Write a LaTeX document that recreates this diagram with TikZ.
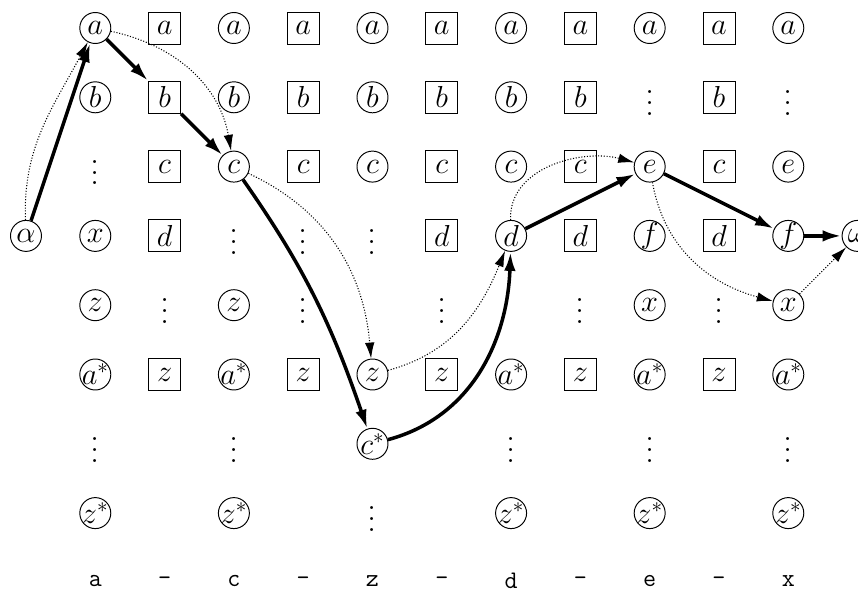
\documentclass[tikz,border=0pt]{standalone}
\usetikzlibrary{arrows.meta}
\newcommand\Zc[1]{\makebox[0pt]{$#1$}}
\newcommand\Vd{\vbox{\baselineskip 6.2pt\lineskiplimit 0pt\hbox{.}\hbox{.}\hbox{.}}}
\begin{document}
\begin{tikzpicture}[x=1.386cm,y=1.386cm,
  cn/.style={circle,draw,line width=0.55pt,minimum size=0.62cm,inner sep=0pt,font=\LARGE},
  sn/.style={rectangle,draw,line width=0.55pt,minimum size=0.64cm,inner sep=0pt,font=\LARGE},
  dn/.style={inner sep=0pt,font=\huge,yshift=-0.12cm},
  lb/.style={inner sep=0pt,font=\Large\ttfamily},
  th/.style={line width=2pt,-{Latex[length=3.8mm,width=2.3mm]}},
  dt/.style={line width=0.6pt,densely dotted,-{Latex[length=3.2mm,width=1.9mm]}}]
\useasboundingbox (-0.375,-0.596) rectangle (12.006,-9.11);
\clip (-0.375,-0.596) rectangle (12.006,-9.11);
% alpha and omega
\node[cn] (al) at (0,-4) {\Zc{\alpha}};
\node[cn] (om) at (12,-4) {\Zc{\omega}};
% column 1
\node[cn] (n1-1) at (1,-1) {\Zc{a}};
\node[cn] (n1-2) at (1,-2) {\Zc{b}};
\node[dn] (n1-3) at (1,-3) {\Vd};
\node[cn] (n1-4) at (1,-4) {\Zc{x}};
\node[cn] (n1-5) at (1,-5) {\Zc{z}};
\node[cn] (n1-6) at (1,-6) {\Zc{a^*}};
\node[dn] (n1-7) at (1,-7) {\Vd};
\node[cn] (n1-8) at (1,-8) {\Zc{z^*}};
% column 2
\node[sn] (n2-1) at (2,-1) {$a$};
\node[sn] (n2-2) at (2,-2) {$b$};
\node[sn] (n2-3) at (2,-3) {$c$};
\node[sn] (n2-4) at (2,-4) {$d$};
\node[dn] (n2-5) at (2,-5) {\Vd};
\node[sn] (n2-6) at (2,-6) {$z$};
% column 3
\node[cn] (n3-1) at (3,-1) {\Zc{a}};
\node[cn] (n3-2) at (3,-2) {\Zc{b}};
\node[cn] (n3-3) at (3,-3) {\Zc{c}};
\node[dn] (n3-4) at (3,-4) {\Vd};
\node[cn] (n3-5) at (3,-5) {\Zc{z}};
\node[cn] (n3-6) at (3,-6) {\Zc{a^*}};
\node[dn] (n3-7) at (3,-7) {\Vd};
\node[cn] (n3-8) at (3,-8) {\Zc{z^*}};
% column 4
\node[sn] (n4-1) at (4,-1) {$a$};
\node[sn] (n4-2) at (4,-2) {$b$};
\node[sn] (n4-3) at (4,-3) {$c$};
\node[dn] (n4-4) at (4,-4) {\Vd};
\node[dn] (n4-5) at (4,-5) {\Vd};
\node[sn] (n4-6) at (4,-6) {$z$};
% column 5
\node[cn] (n5-1) at (5,-1) {\Zc{a}};
\node[cn] (n5-2) at (5,-2) {\Zc{b}};
\node[cn] (n5-3) at (5,-3) {\Zc{c}};
\node[dn] (n5-4) at (5,-4) {\Vd};
\node[cn] (n5-6) at (5,-6) {\Zc{z}};
\node[cn] (n5-7) at (5,-7) {\Zc{c^*}};
\node[dn] (n5-8) at (5,-8) {\Vd};
% column 6
\node[sn] (n6-1) at (6,-1) {$a$};
\node[sn] (n6-2) at (6,-2) {$b$};
\node[sn] (n6-3) at (6,-3) {$c$};
\node[sn] (n6-4) at (6,-4) {$d$};
\node[dn] (n6-5) at (6,-5) {\Vd};
\node[sn] (n6-6) at (6,-6) {$z$};
% column 7
\node[cn] (n7-1) at (7,-1) {\Zc{a}};
\node[cn] (n7-2) at (7,-2) {\Zc{b}};
\node[cn] (n7-3) at (7,-3) {\Zc{c}};
\node[cn] (n7-4) at (7,-4) {\Zc{d}};
\node[cn] (n7-6) at (7,-6) {\Zc{a^*}};
\node[dn] (n7-7) at (7,-7) {\Vd};
\node[cn] (n7-8) at (7,-8) {\Zc{z^*}};
% column 8
\node[sn] (n8-1) at (8,-1) {$a$};
\node[sn] (n8-2) at (8,-2) {$b$};
\node[sn] (n8-3) at (8,-3) {$c$};
\node[sn] (n8-4) at (8,-4) {$d$};
\node[dn] (n8-5) at (8,-5) {\Vd};
\node[sn] (n8-6) at (8,-6) {$z$};
% column 9
\node[cn] (n9-1) at (9,-1) {\Zc{a}};
\node[dn] (n9-2) at (9,-2) {\Vd};
\node[cn] (n9-3) at (9,-3) {\Zc{e}};
\node[cn] (n9-4) at (9,-4) {\Zc{f}};
\node[cn] (n9-5) at (9,-5) {\Zc{x}};
\node[cn] (n9-6) at (9,-6) {\Zc{a^*}};
\node[dn] (n9-7) at (9,-7) {\Vd};
\node[cn] (n9-8) at (9,-8) {\Zc{z^*}};
% column 10
\node[sn] (n10-1) at (10,-1) {$a$};
\node[sn] (n10-2) at (10,-2) {$b$};
\node[sn] (n10-3) at (10,-3) {$c$};
\node[sn] (n10-4) at (10,-4) {$d$};
\node[dn] (n10-5) at (10,-5) {\Vd};
\node[sn] (n10-6) at (10,-6) {$z$};
% column 11
\node[cn] (n11-1) at (11,-1) {\Zc{a}};
\node[dn] (n11-2) at (11,-2) {\Vd};
\node[cn] (n11-3) at (11,-3) {\Zc{e}};
\node[cn] (n11-4) at (11,-4) {\Zc{f}};
\node[cn] (n11-5) at (11,-5) {\Zc{x}};
\node[cn] (n11-6) at (11,-6) {\Zc{a^*}};
\node[dn] (n11-7) at (11,-7) {\Vd};
\node[cn] (n11-8) at (11,-8) {\Zc{z^*}};
% bottom labels
\node[lb] (l1) at (1,-8.98) {a};
\node[lb] (l2) at (2,-8.98) {-};
\node[lb] (l3) at (3,-8.98) {c};
\node[lb] (l4) at (4,-8.98) {-};
\node[lb] (l5) at (5,-8.98) {z};
\node[lb] (l6) at (6,-8.98) {-};
\node[lb] (l7) at (7,-8.98) {d};
\node[lb] (l8) at (8,-8.98) {-};
\node[lb] (l9) at (9,-8.98) {e};
\node[lb] (l10) at (10,-8.98) {-};
\node[lb] (l11) at (11,-8.98) {x};
% thick path
\draw[th] (al) -- (n1-1);
\draw[th] (n1-1) -- (n2-2);
\draw[th] (n2-2) -- (n3-3);
\draw[th] (n3-3) to[out=-55,in=109] (n5-7);
\draw[th] (n5-7) to[out=15,in=-92] (n7-4);
\draw[th] (n7-4) -- (n9-3);
\draw[th] (n9-3) -- (n11-4);
\draw[th] (n11-4) -- (om);
% dotted path
\draw[dt] (al) to[out=92,in=-118] (n1-1);
\draw[dt] (n1-1) to[out=-12,in=100] (n3-3);
\draw[dt] (n3-3) to[out=-25,in=95] (n5-6);
\draw[dt] (n5-6) to[out=15,in=-112] (n7-4);
\draw[dt] (n7-4) to[out=92,in=165] (n9-3);
\draw[dt] (n9-3) to[out=-80,in=165] (n11-5);
\draw[dt] (n11-5) -- (om);
\end{tikzpicture}
\end{document}
